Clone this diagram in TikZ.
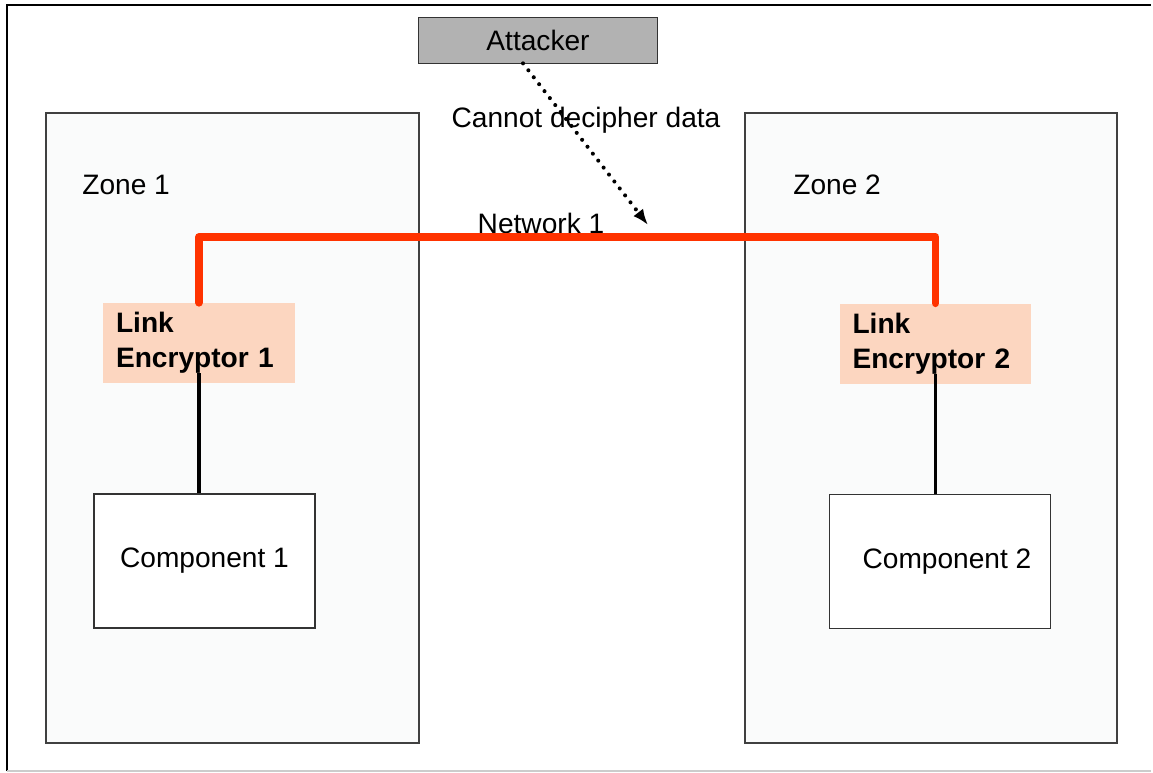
\documentclass[tikz,border=0pt]{standalone}
\usepackage{fontspec}
\setmainfont{Liberation Sans}
\usepackage{tikz}
\usetikzlibrary{arrows.meta}
\definecolor{netred}{RGB}{255,51,0}
\definecolor{zonefill}{RGB}{250,251,251}
\definecolor{encfill}{RGB}{252,214,192}
\definecolor{attackfill}{RGB}{178,178,178}

\begin{document}
\begin{tikzpicture}[x=0.02cm, y=-0.02cm,
    every node/.style={font=\fontsize{16}{20}\selectfont},
    zonebox/.style={draw=black!75, line width=0.8pt, fill=zonefill},
    encbox/.style={fill=encfill, minimum width=3.84cm, minimum height=1.6cm,
      text width=3.32cm, inner xsep=0.26cm, align=left,
      font=\fontsize{16}{20}\selectfont\bfseries},
    compbox/.style={draw=black!80, line width=0.8pt, fill=white,
      minimum width=4.42cm, minimum height=2.68cm},
    network/.style={netred, line width=4.5pt, line cap=round, line join=round},
    link/.style={black, line width=2.2pt}]
    \useasboundingbox (0,0) rectangle (1153,772);
    % frame
    \draw [line width=1.2pt]            (7,771) -- (7,5) -- (1151,5);
    \draw [black!20, line width=0.8pt]  (7,771) -- (1151,771);
    % zones
    \draw [zonebox]  (46,113) rectangle (419,743);
    \draw [zonebox]  (745,113) rectangle (1117,743);
    \node [anchor=west, inner sep=0] (zone1) at (82,185) {Zone 1};
    \node [anchor=west, inner sep=0] (zone2) at (793,185) {Zone 2};
    % attacker
    \node [draw=black!80, fill=attackfill, minimum width=4.78cm, minimum height=0.92cm]
          (attacker) at (538,40) {Attacker};
    \node (cannot) at (586,120) {Cannot decipher data};
    % network 1
    \coordinate (bus) at (0,237);
    \node (net1) at (541,223) {Network 1};
    \node [encbox]   (enc1) at (199,343) {Link\\Encryptor 1};
    \node [encbox]   (enc2) at (935.5,343.5) {Link\\Encryptor 2};
    \draw [network]  (enc1.north) -- (enc1.north |- bus) -- (enc2.north |- bus) -- (enc2.north);
    \coordinate (hit) at (648,225);
    \draw [line width=2.3pt, line cap=round, dash pattern=on 0pt off 5pt, -{Latex[length=9pt, width=7pt]}]
          ([xshift=-0.3cm]attacker.south) -- (hit);
    % components
    \node [compbox]  (comp1) at (204.5,561) {Component 1};
    \node [compbox]  (comp2) at (940,561.5) {\hspace*{0.28cm}Component 2};
    \draw [link]     ([yshift=0.2cm]enc1.south) -- (enc1.south |- comp1.north);
    \draw [link]     ([yshift=0.2cm]enc2.south) -- (enc2.south |- comp2.north);
  \end{tikzpicture}
\end{document}
